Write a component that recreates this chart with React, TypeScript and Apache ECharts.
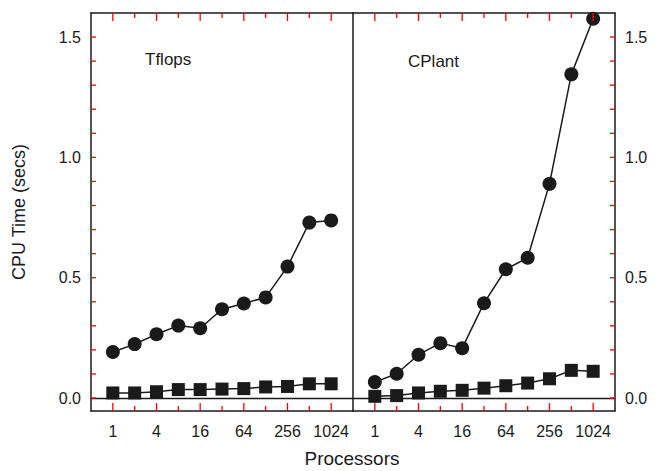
import React, { useEffect, useRef } from "react";
import * as echarts from "echarts";

const processors = [1, 2, 4, 8, 16, 32, 64, 128, 256, 512, 1024];
const tflopsCircle = [0.191, 0.224, 0.265, 0.301, 0.29, 0.369, 0.393, 0.418, 0.546, 0.729, 0.738];
const tflopsSquare = [0.021, 0.021, 0.026, 0.035, 0.035, 0.037, 0.039, 0.046, 0.048, 0.059, 0.059];
const cplantCircle = [0.066, 0.101, 0.18, 0.228, 0.207, 0.394, 0.535, 0.583, 0.89, 1.345, 1.576];
const cplantSquare = [0.007, 0.01, 0.021, 0.028, 0.032, 0.041, 0.051, 0.062, 0.08, 0.115, 0.111];
const xMajorExp = [0, 2, 4, 6, 8, 10];
const xMinorExp = [1, 3, 5, 7, 9];
const yTicks = [0, 0.1, 0.2, 0.3, 0.4, 0.5, 0.6, 0.7, 0.8, 0.9, 1.0, 1.1, 1.2, 1.3, 1.4, 1.5];
const yLabels = [0, 0.5, 1.0, 1.5];
const panelNames = ["Tflops", "CPlant"];

const FONT = 'Arial, "Liberation Sans", Helvetica, sans-serif';
const INK = "#1a1a1a";
const TICK_INK = "#ff0000";
const X_MIN = -1;
const X_MAX = 11;
const Y_MIN = -0.054;
const Y_MAX = 1.6;

export default function App() {
  const ref = useRef<HTMLDivElement>(null);
  useEffect(() => {
    if (!ref.current) return;
    const chart = echarts.init(ref.current, null, { renderer: "svg" });
    const toXY = (vals: number[]) => processors.map((p, i) => [Math.log2(p), vals[i]]);

    const grids = [
      { left: 91, top: 13, width: 262, height: 398 },
      { left: 353, top: 13, width: 262, height: 398 },
    ];

    const frameLine = { show: true, onZero: false, lineStyle: { color: INK, width: 1.5 } };

    const xAxes: any[] = [];
    [0, 1].forEach((gi) => {
      xAxes.push({
        type: "value",
        gridIndex: gi,
        min: X_MIN,
        max: X_MAX,
        position: "bottom",
        axisLine: frameLine,
        axisTick: { show: false },
        splitLine: { show: false },
        axisLabel: {
          show: true,
          customValues: xMajorExp,
          formatter: (v: number) => String(Math.round(Math.pow(2, v))),
          fontSize: 16,
          fontFamily: FONT,
          color: INK,
          margin: 12,
        },
      });
    });
    [0, 1].forEach((gi) => {
      xAxes.push({
        type: "value",
        gridIndex: gi,
        min: X_MIN,
        max: X_MAX,
        position: "top",
        axisLine: frameLine,
        axisTick: { show: false },
        splitLine: { show: false },
        axisLabel: { show: false },
      });
    });

    const yAxes: any[] = [0, 1].map((gi) => ({
      type: "value",
      gridIndex: gi,
      min: Y_MIN,
      max: Y_MAX,
      position: gi === 0 ? "left" : "right",
      axisLine: frameLine,
      splitLine: { show: false },
      axisTick: { show: false },
      axisLabel: {
        show: true,
        customValues: yLabels,
        formatter: (v: number) => v.toFixed(1),
        fontSize: 16,
        fontFamily: FONT,
        color: INK,
        margin: 10,
      },
    }));
    yAxes.push({
      type: "value",
      gridIndex: 0,
      min: Y_MIN,
      max: Y_MAX,
      position: "right",
      axisLine: frameLine,
      splitLine: { show: false },
      axisTick: { show: false },
      axisLabel: { show: false },
    });

    const mkSeries = (name: string, gi: number, vals: number[], symbol: string, size: number, zeroLine: boolean) => ({
      name,
      type: "line",
      xAxisIndex: gi,
      yAxisIndex: gi,
      data: toXY(vals),
      symbol,
      symbolSize: size,
      itemStyle: { color: INK },
      lineStyle: { color: INK, width: 1.5 },
      z: 3,
      markLine: zeroLine
        ? {
            silent: true,
            symbol: ["none", "none"],
            label: { show: false },
            lineStyle: { color: INK, width: 1.3, type: "solid" },
            data: [{ yAxis: 0 }],
          }
        : undefined,
    });

    // Tick marks as tiny two-point line series, placed by the axes' own scales
    const tickSeries: any[] = [];
    const pxToY = (px: number) => (px * (Y_MAX - Y_MIN)) / 398;
    const pxToX = (px: number) => (px * (X_MAX - X_MIN)) / 262;
    [0, 1].forEach((gi) => {
      const addX = (e: number, len: number) => {
        tickSeries.push([[e, Y_MIN], [e, Y_MIN + pxToY(len)]]);
        tickSeries.push([[e, Y_MAX], [e, Y_MAX - pxToY(len)]]);
      };
      xMajorExp.forEach((e) => addX(e, 8));
      xMinorExp.forEach((e) => addX(e, 5));
      const edge = gi === 0 ? X_MIN : X_MAX;
      const dir = gi === 0 ? 1 : -1;
      yTicks.forEach((v) => tickSeries.push([[edge, v], [edge + dir * pxToX(5), v]]));
      (tickSeries as any)[`g${gi}`] = tickSeries.length;
    });
    const g0Count = (tickSeries as any).g0;
    const tickSeriesOpts = tickSeries.map((seg, i) => ({
      type: "line",
      xAxisIndex: i < g0Count ? 0 : 1,
      yAxisIndex: i < g0Count ? 0 : 1,
      data: seg,
      symbol: "none",
      silent: true,
      clip: false,
      z: 10,
      lineStyle: { color: TICK_INK, width: 1.3 },
    }));

    const series = [
      mkSeries("Tflops circle", 0, tflopsCircle, "circle", 14, true),
      mkSeries("Tflops square", 0, tflopsSquare, "rect", 13, false),
      mkSeries("CPlant circle", 1, cplantCircle, "circle", 14, true),
      mkSeries("CPlant square", 1, cplantSquare, "rect", 13, false),
      ...tickSeriesOpts,
    ];

    chart.setOption({
      animation: false,
      backgroundColor: "#ffffff",
      grid: grids,
      xAxis: xAxes,
      yAxis: yAxes,
      series,
      graphic: [
        { type: "text", x: 145, y: 51, style: { text: panelNames[0], fontSize: 17, fontFamily: FONT, fill: INK } },
        { type: "text", x: 408, y: 53, style: { text: panelNames[1], fontSize: 17, fontFamily: FONT, fill: INK } },
        {
          type: "text",
          x: 19,
          y: 212,
          rotation: Math.PI / 2,
          style: { text: "CPU Time (secs)", fontSize: 18, fontFamily: FONT, fill: INK, align: "center", verticalAlign: "middle" },
        },
        {
          type: "text",
          x: 352,
          y: 458,
          style: { text: "Processors", fontSize: 19, fontFamily: FONT, fill: INK, align: "center", verticalAlign: "middle" },
        },
      ],
    });

    return () => chart.dispose();
  }, []);
  return <div ref={ref} style={{ position: "fixed", left: 0, top: 0, width: 661, height: 471 }} />;
}
